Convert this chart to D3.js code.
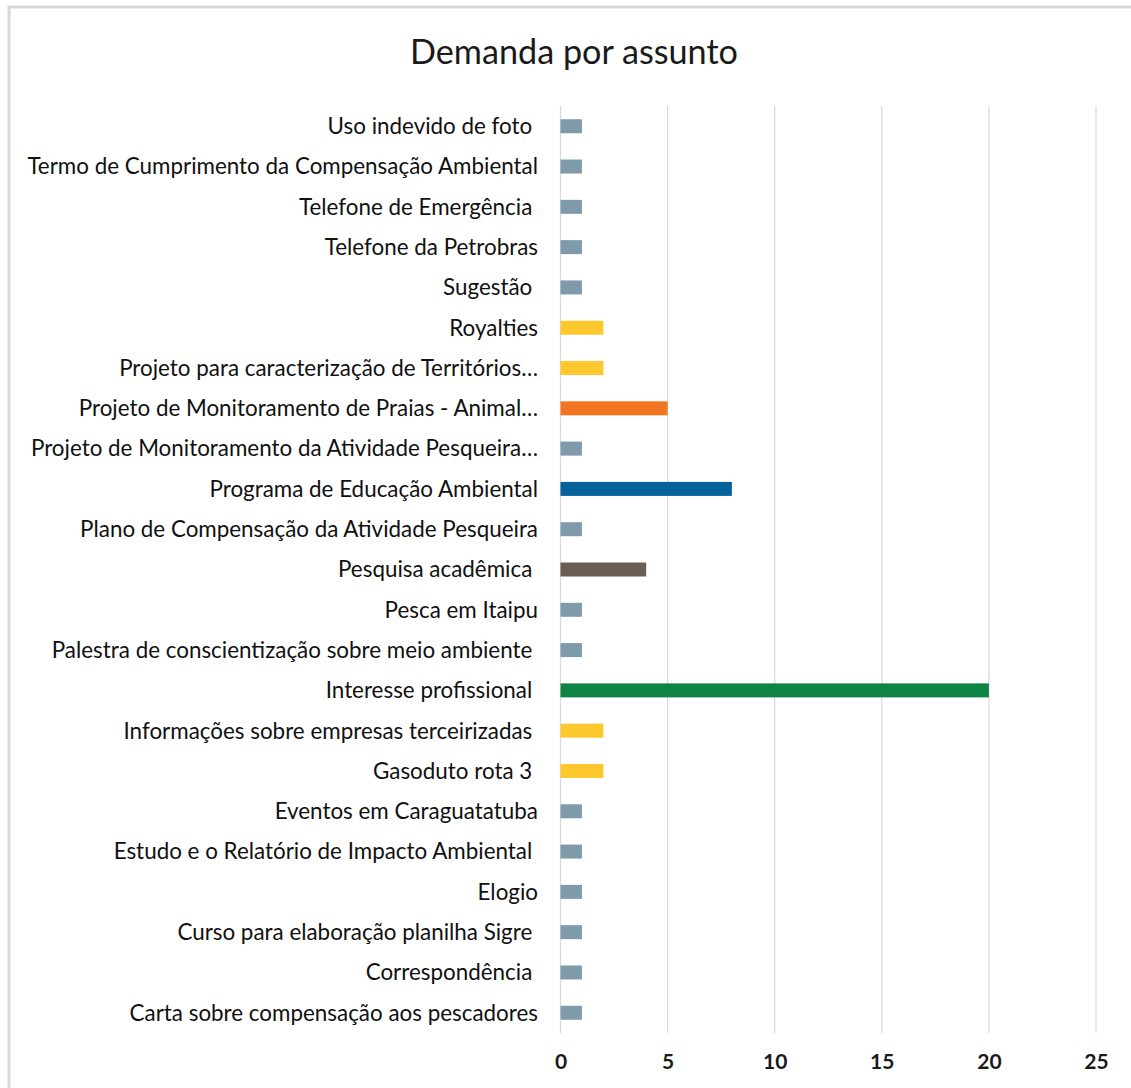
<!DOCTYPE html>
<html><head><meta charset="utf-8">
<script src="https://cdn.jsdelivr.net/npm/d3@7"></script>
<style>body{margin:0;background:#fff}text{white-space:pre}</style>
</head><body><svg id="c" width="1131" height="1088"></svg>
<script>
const title = "Demanda por assunto";
const categories = [
 "Uso indevido de foto ",
 "Termo de Cumprimento da Compensação Ambiental",
 "Telefone de Emergência ",
 "Telefone da Petrobras",
 "Sugestão ",
 "Royalties",
 "Projeto para caracterização de Territórios…",
 "Projeto de Monitoramento de Praias - Animal…",
 "Projeto de Monitoramento da Atividade Pesqueira…",
 "Programa de Educação Ambiental",
 "Plano de Compensação da Atividade Pesqueira",
 "Pesquisa acadêmica ",
 "Pesca em Itaipu",
 "Palestra de conscientização sobre meio ambiente ",
 "Interesse profissional ",
 "Informações sobre empresas terceirizadas ",
 "Gasoduto rota 3 ",
 "Eventos em Caraguatatuba",
 "Estudo e o Relatório de Impacto Ambiental ",
 "Elogio",
 "Curso para elaboração planilha Sigre ",
 "Correspondência ",
 "Carta sobre compensação aos pescadores"
];
const values = [1,1,1,1,1,2,2,5,1,8,1,4,1,1,20,2,2,1,1,1,1,1,1];
const barColors = ["#7f9bab","#7f9bab","#7f9bab","#7f9bab","#7f9bab","#fdc72e","#fdc72e","#f47521","#7f9bab","#06629a","#7f9bab","#6a5e54","#7f9bab","#7f9bab","#0e8444","#fdc72e","#fdc72e","#7f9bab","#7f9bab","#7f9bab","#7f9bab","#7f9bab","#7f9bab"];
const xTicks = [0,5,10,15,20,25];

const svg = d3.select("#c");
const FONT = "Lato, 'Noto Sans', sans-serif";

// frame (partial border)
svg.append("path").attr("d","M9,1088V7H1131").attr("fill","none").attr("stroke","#d9d9d9").attr("stroke-width",3);

const x = d3.scaleLinear().domain([0,25]).range([560.5,1096]);
const y = d3.scaleBand().domain(categories).range([106,1033]).paddingInner(0.655).paddingOuter(0.33);

function fitSize(txt, target, weight, base){
  const t = svg.append("text").attr("font-family",FONT).attr("font-size",base).attr("font-weight",weight).text(txt);
  const w = t.node().getComputedTextLength(); t.remove();
  return base*target/w;
}
const labelSize = fitSize("Termo de Cumprimento da Compensação Ambiental",511,"normal",20);
const titleSize = fitSize(title,328,"normal",28);

// grid
svg.append("g").selectAll("line").data(xTicks).join("line")
  .attr("x1",d=>x(d)).attr("x2",d=>x(d)).attr("y1",106).attr("y2",1033)
  .attr("stroke","#d9d9d9").attr("stroke-width",1.2);

// bars
svg.append("g").selectAll("rect").data(categories).join("rect")
  .attr("x",x(0)).attr("y",d=>y(d)+y.bandwidth()/2-7)
  .attr("width",(d,i)=>x(values[i])-x(0)).attr("height",14)
  .attr("fill",(d,i)=>barColors[i]);

// category labels
svg.append("g").selectAll("text").data(categories).join("text")
  .attr("x",538).attr("y",d=>y(d)+y.bandwidth()/2)
  .attr("dy","0.35em").attr("text-anchor","end")
  .attr("font-family",FONT).attr("font-size",labelSize).attr("fill","#111")
  .text(d=>d);

// x axis
const xAxis = d3.axisBottom(x).tickValues(xTicks).tickSize(0).tickPadding(0);
const gx = svg.append("g").attr("transform","translate(0,1054)").call(xAxis);
gx.select(".domain").remove();
gx.selectAll("text").attr("font-family",FONT).attr("font-size",21).attr("font-weight","bold").attr("fill","#1a1a1a");

// title
svg.append("text").attr("x",574).attr("y",52).attr("dy","0.35em").attr("text-anchor","middle")
  .attr("font-family",FONT).attr("font-size",titleSize).attr("fill","#1a1a1a").text(title);
</script></body></html>
